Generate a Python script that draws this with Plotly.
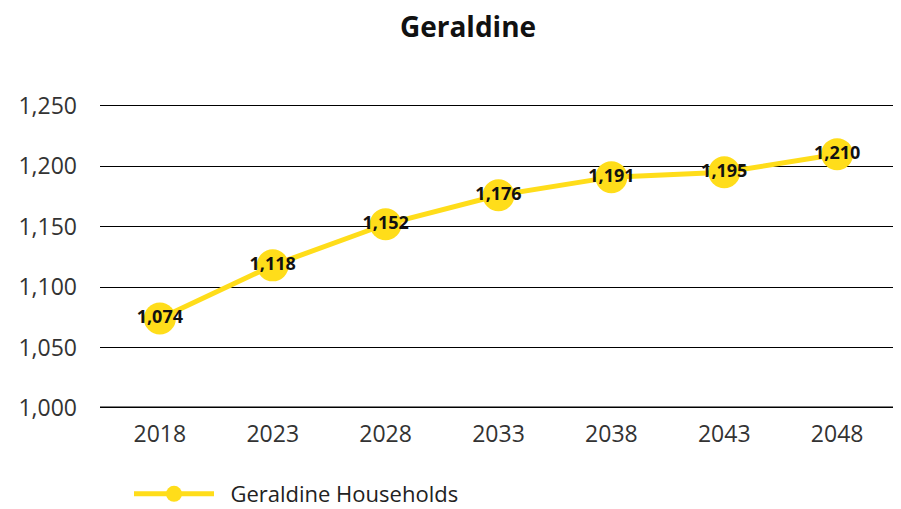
import plotly.graph_objects as go

years = ["2018", "2023", "2028", "2033", "2038", "2043", "2048"]
households = [1074, 1118, 1152, 1176, 1191, 1195, 1210]
series_name = "Geraldine Households"
title = "Geraldine"

YELLOW = "#FFDD1A"
FONT = "Open Sans"
W, H = 893, 501  # page body has an 8px margin

fig = go.Figure()
fig.add_trace(go.Scatter(
    x=years, y=households, name="\u00a0\u00a0" + series_name,
    mode="lines+markers+text",
    line=dict(color=YELLOW, width=5),
    marker=dict(color=YELLOW, size=32),
    text=[f"{v:,}" for v in households],
    textposition="middle center",
    textfont=dict(family=FONT, size=18, color="#111111", weight="bold"),
    cliponaxis=False,
))

fig.update_layout(
    width=W, height=H,
    paper_bgcolor="white", plot_bgcolor="white",
    margin=dict(l=92, r=4, t=96, b=101, autoexpand=False),
    title=dict(text="<b>" + title + "</b>", x=460/W, xanchor="center",
               y=1 - 19/H, yanchor="middle",
               font=dict(family=FONT, size=28, color="#111111")),
    font=dict(family=FONT, color="#333333"),
    showlegend=True,
    legend=dict(orientation="h", xref="container", x=121/W, xanchor="left",
                yref="container", y=1 - 486/H, yanchor="middle",
                font=dict(family=FONT, size=22, color="#222222"), itemwidth=80),
)
fig.update_xaxes(type="category", showgrid=False, showline=False, ticks="",
                 automargin=False,
                 tickfont=dict(size=23, color="#333333"), ticklabelstandoff=10)
fig.update_yaxes(range=[1000, 1251.5], tickvals=[1000, 1050, 1100, 1150, 1200, 1250],
                 tickformat=",", automargin=False,
                 showgrid=True, gridcolor="#000000", gridwidth=1,
                 zeroline=False, showline=False, ticks="",
                 tickfont=dict(size=23, color="#333333"), ticklabelstandoff=22)
fig.add_hline(y=1000, line=dict(color="#000000", width=3), layer="below")

fig.write_html("out.html")
